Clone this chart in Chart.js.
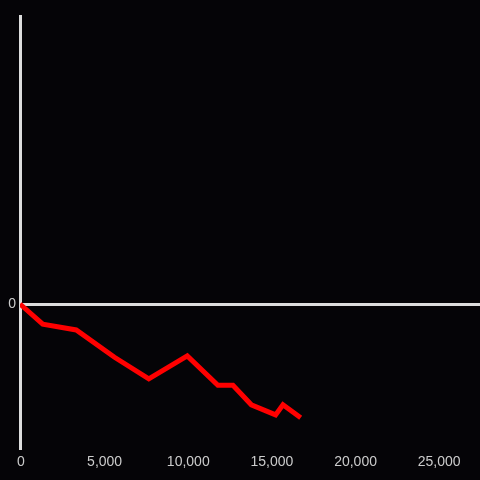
<!DOCTYPE html>
<html>
<head>
<meta charset="utf-8">
<script src="https://cdn.jsdelivr.net/npm/chart.js@4"></script>
<style>
  html, body { margin: 0; padding: 0; background: #050407; }
  #wrap { width: 480px; height: 480px; }
</style>
</head>
<body>
<div id="wrap"><canvas id="chart"></canvas></div>
<script>
// values
const xValues = [0, 1360, 3360, 5650, 7700, 10000, 11830, 12730, 13830, 15280, 15720, 16780];
const yValues = [0, -0.14, -0.18, -0.37, -0.52, -0.36, -0.565, -0.565, -0.70, -0.77, -0.70, -0.79];
const xTicks = [0, 5000, 10000, 15000, 20000, 25000];

const axisColor = '#dddddd';
const tickColor = '#cccccc';
const tickFont = { family: 'Liberation Sans, Arial, sans-serif', size: 14 };

const ctx = document.getElementById('chart').getContext('2d');
new Chart(ctx, {
    type: 'line',
    data: {
        datasets: [{
            data: xValues.map((x, i) => ({ x: x, y: yValues[i] })),
            borderColor: '#ff0000',
            borderWidth: 5,
            pointRadius: 0,
            fill: false,
            tension: 0
        }]
    },
    options: {
        responsive: true,
        maintainAspectRatio: false,
        animation: false,
        layout: { padding: { top: 16, right: 0, left: 0, bottom: 0 } },
        plugins: {
            legend: { display: false },
            tooltip: { enabled: false }
        },
        scales: {
            x: {
                type: 'linear',
                min: 0,
                max: 27500,
                afterBuildTicks: s => { s.ticks = xTicks.map(v => ({ value: v })); },
                afterFit: s => { s.height = 32; s.paddingRight = 0; s.paddingLeft = 0; },
                border: { display: false },
                grid: { display: false, drawTicks: false },
                ticks: {
                    autoSkip: false,
                    color: tickColor,
                    padding: 6,
                    labelOffset: 1,
                    maxRotation: 0,
                    font: tickFont,
                    callback: v => v.toLocaleString('en-US')
                }
            },
            y: {
                min: -1,
                max: 2,
                afterFit: s => { s.width = 20; },
                border: { display: true, color: axisColor, width: 3 },
                grid: {
                    drawTicks: false,
                    color: c => (c.tick && c.tick.value === 0 ? axisColor : 'rgba(0,0,0,0)'),
                    lineWidth: 3
                },
                ticks: {
                    stepSize: 1,
                    color: tickColor,
                    padding: 4,
                    font: tickFont,
                    callback: v => (v === 0 ? '0' : '')
                }
            }
        }
    }
});
</script>
</body>
</html>
